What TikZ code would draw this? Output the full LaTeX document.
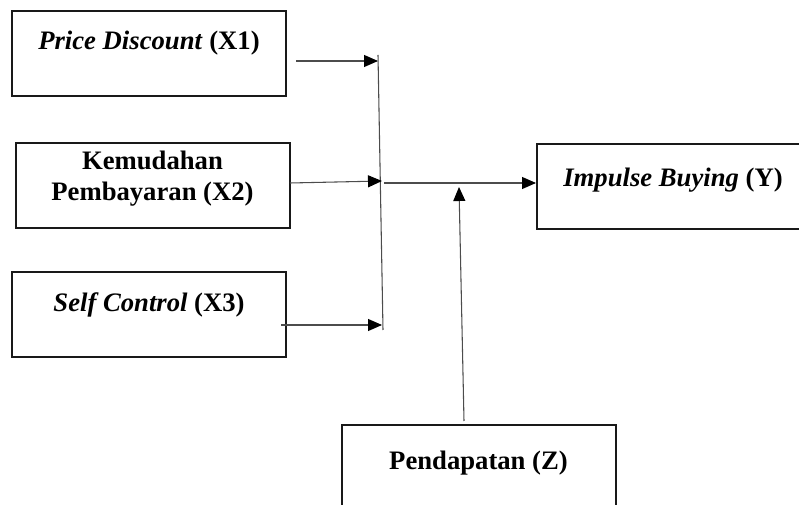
\documentclass[tikz,border=0pt]{standalone}
\usepackage{fontspec}
\setmainfont{Liberation Serif}
\usetikzlibrary{arrows.meta}

\tikzset{
  boite/.style={draw=black!90,line width=1.5pt,inner sep=0pt,minimum width=205.5pt,minimum height=63.75pt},
  texte/.style={font=\fontsize{20}{23}\selectfont\bfseries,align=center,inner sep=0pt},
  lien/.style={draw=black!70,line width=0.8pt,-{Triangle[length=10.5pt,width=9pt,color=black]}},
}

\begin{document}
\begin{tikzpicture}[x=0.75pt,y=-0.75pt]
		\useasboundingbox (0,0) rectangle (799,505);
		\clip (0,0) rectangle (799,505);
		%les boites : variables X1, X2, X3, Y et Z
		\node (node x1) at(149, 53.5) [boite,label={[texte,yshift=7.5pt]center:{\textit{Price Discount} (X1)}}] {} ;
		\node (node x2) at(152.5, 185.5) [boite,label={[texte,yshift=5pt]center:{Kemudahan\\Pembayaran (X2)}}] {} ;
		\node (node x3) at(149, 314.5) [boite,label={[texte,yshift=7.5pt]center:{\textit{Self Control} (X3)}}] {} ;
		\node (node y) at(673, 187) [boite,minimum width=204pt,label={[texte,yshift=5.5pt]center:{\textit{Impulse Buying} (Y)}}] {} ;
		\node (node z) at(478.5, 480) [boite,minimum height=82.5pt,label={[texte,yshift=13pt]center:{Pendapatan (Z)}}] {} ;

		%points de jonction
		\coordinate (bar top) at(378, 55) ;
		\coordinate (bar bottom) at(383, 330) ;
		\coordinate (x1 out) at(296, 61) ;
		\coordinate (x1 in) at(378, 61) ;
		\coordinate (x2 out) at(290, 183) ;
		\coordinate (x2 in) at(382, 181) ;
		\coordinate (x3 out) at(281, 325) ;
		\coordinate (x3 in) at(382, 325) ;
		\coordinate (y out) at(384, 183) ;
		\coordinate (y in) at(536, 183) ;
		\coordinate (z out) at(464, 421) ;
		\coordinate (z in) at(459, 187) ;

		\draw[draw=black!70,line width=0.8pt] (bar top) -- (bar bottom) ;
		\path
		(x1 out) edge[lien] (x1 in)
		(x2 out) edge[lien] (x2 in)
		(x3 out) edge[lien] (x3 in)
		(y out) edge[lien] (y in)
		(z out) edge[lien] (z in)
		;
\end{tikzpicture}
\end{document}
